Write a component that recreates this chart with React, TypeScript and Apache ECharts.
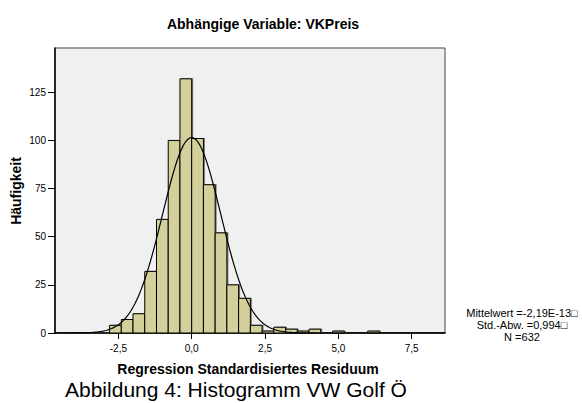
import React, { useEffect, useRef } from "react";
import * as echarts from "echarts";

const chartTitle = "Abhängige Variable: VKPreis";
const xAxisTitle = "Regression Standardisiertes Residuum";
const yAxisTitle = "Häufigkeit";
const caption = "Abbildung 4: Histogramm VW Golf Ö";

const binWidth = 0.4;
const binStarts = [-2.8, -2.4, -2.0, -1.6, -1.2, -0.8, -0.4, 0.0, 0.4, 0.8, 1.2, 1.6, 2.0, 2.4, 2.8, 3.2, 3.6, 4.0, 4.8, 6.0];
const binCounts = [4, 7, 10, 32, 59, 100, 132, 101, 77, 52, 25, 18, 4, 1, 3, 2, 1, 2, 1, 1];

const xTickValues = [-2.5, 0, 2.5, 5, 7.5];
const yTickValues = [0, 25, 50, 75, 100, 125];

const statMean = -2.19e-13;
const statSd = 0.994;
const statN = 632;
const statLabels = ["Mittelwert =-2,19E-13\u25A1", "Std.-Abw. =0,994\u25A1", "N =632"];

const X_MIN = -4.66;
const X_MAX = 8.636;
const Y_MAX = 148;

const FONT = "'Liberation Sans', Arial, sans-serif";

function normalCurve(): number[][] {
  const pts: number[][] = [];
  const steps = 400;
  for (let i = 0; i <= steps; i++) {
    const x = X_MIN + ((X_MAX - X_MIN) * i) / steps;
    const z = (x - statMean) / statSd;
    const y = (statN * binWidth) / (statSd * Math.sqrt(2 * Math.PI)) * Math.exp(-0.5 * z * z);
    pts.push([x, y]);
  }
  return pts;
}

export default function App() {
  const ref = useRef<HTMLDivElement>(null);
  useEffect(() => {
    if (!ref.current) return;
    const chart = echarts.init(ref.current, null, { renderer: "svg" });
    const barData = binStarts.map((s, i) => [s, s + binWidth, binCounts[i]]);
    chart.setOption({
      animation: false,
      backgroundColor: "#ffffff",
      grid: {
        left: 55,
        right: 137,
        top: 48,
        bottom: 70,
        show: true,
        backgroundColor: "#f0f0f0",
        borderColor: "#444444",
        borderWidth: 1,
      },
      xAxis: {
        type: "value",
        min: X_MIN,
        max: X_MAX,
        splitLine: { show: false },
        axisLine: { show: true, onZero: false, lineStyle: { color: "#000", width: 1.5 } },
        axisTick: { show: true, customValues: xTickValues, length: 6, lineStyle: { color: "#000" } },
        axisLabel: {
          customValues: xTickValues,
          formatter: (v: number) => v.toFixed(1).replace(".", ","),
          color: "#000",
          fontSize: 10,
          fontFamily: FONT,
          margin: 10,
        },
      },
      yAxis: {
        type: "value",
        min: 0,
        max: Y_MAX,
        splitLine: { show: false },
        axisLine: { show: true, onZero: false, lineStyle: { color: "#000", width: 1.5 } },
        axisTick: { show: true, customValues: yTickValues, length: 7, lineStyle: { color: "#000" } },
        axisLabel: {
          customValues: yTickValues,
          formatter: (v: number) => String(v),
          color: "#000",
          fontSize: 10,
          fontFamily: FONT,
          margin: 9,
        },
      },
      series: [
        {
          type: "custom",
          z: 2,
          data: barData,
          encode: { x: [0, 1], y: 2 },
          renderItem: (params: any, api: any) => {
            const x0 = api.value(0);
            const x1 = api.value(1);
            const c = api.value(2);
            const p0 = api.coord([x0, c]);
            const p1 = api.coord([x1, 0]);
            const w = p1[0] - p0[0];
            const h = p1[1] - p0[1];
            return {
              type: "group",
              children: [
                {
                  type: "rect",
                  shape: { x: p0[0] + 1.5, y: p0[1] - 0.5, width: w, height: h },
                  style: { fill: "#77776a" },
                },
                {
                  type: "rect",
                  shape: { x: p0[0], y: p0[1], width: w, height: h },
                  style: { fill: "#d4d09b", stroke: "#000", lineWidth: 1 },
                },
              ],
            };
          },
        },
        {
          type: "line",
          z: 3,
          data: normalCurve(),
          showSymbol: false,
          symbol: "none",
          smooth: false,
          lineStyle: { color: "#000", width: 1.2 },
        },
      ],
      graphic: [
        {
          type: "text",
          x: 263,
          y: 24,
          style: { text: chartTitle, font: `bold 14px ${FONT}`, fill: "#000", align: "center", verticalAlign: "middle" },
        },
        {
          type: "text",
          x: 248,
          y: 369,
          style: { text: xAxisTitle, font: `bold 14px ${FONT}`, fill: "#000", align: "center", verticalAlign: "middle" },
        },
        {
          type: "text",
          x: 16,
          y: 191,
          rotation: Math.PI / 2,
          style: { text: yAxisTitle, font: `bold 14px ${FONT}`, fill: "#000", align: "center", verticalAlign: "middle" },
        },
        {
          type: "text",
          x: 65,
          y: 389,
          style: { text: caption, font: `21px ${FONT}`, fill: "#000", align: "left", verticalAlign: "middle" },
        },
        ...statLabels.map((t, i) => ({
          type: "text",
          x: 522,
          y: 313 + i * 12,
          style: { text: t, font: `11px ${FONT}`, fill: "#000", align: "center", verticalAlign: "middle" },
        })),
      ],
    });
    return () => chart.dispose();
  }, []);
  return (
    <div
      ref={ref}
      style={{ position: "absolute", left: 0, top: 0, width: 582, height: 403 }}
    />
  );
}
